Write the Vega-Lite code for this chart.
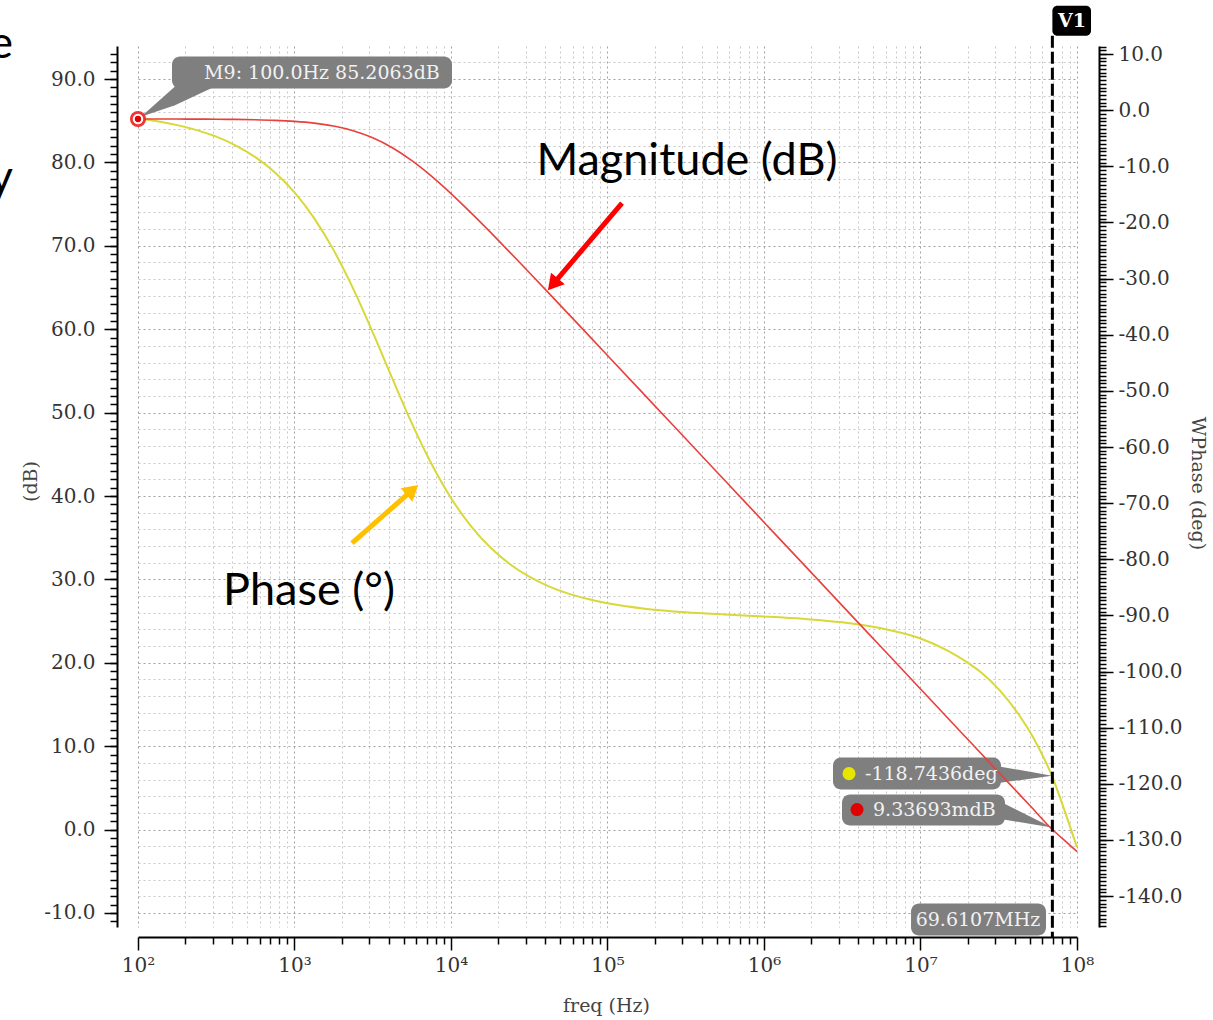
{
  "$schema": "https://vega.github.io/schema/vega-lite/v6.json",
  "width": 939,
  "height": 881,
  "autosize": {"type": "none"},
  "padding": {"left": 138, "top": 46, "right": 136, "bottom": 93},
  "background": "#ffffff",
  "config": {
    "view": {"stroke": null},
    "axis": {"labelFont": "DejaVu Serif", "titleFont": "DejaVu Serif", "labelColor": "#333333", "titleColor": "#444444", "titleFontWeight": "normal", "tickColor": "#000000", "domainColor": "#000000", "domainWidth": 2, "tickWidth": 1.5, "labelFontSize": 20, "titleFontSize": 19}
  },
  "datasets": {
    "mag": [
      {"f": 100, "db": 85.206}, {"f": 133, "db": 85.204}, {"f": 178, "db": 85.2}, {"f": 237, "db": 85.192}, {"f": 316, "db": 85.179}, {"f": 422, "db": 85.156}, {"f": 562, "db": 85.116}, {"f": 750, "db": 85.045}, {"f": 1000, "db": 84.922}, {"f": 1334, "db": 84.711}, {"f": 1778, "db": 84.359}, {"f": 2371, "db": 83.797}, {"f": 3162, "db": 82.947}, {"f": 4217, "db": 81.754}, {"f": 5623, "db": 80.211}, {"f": 7499, "db": 78.357}, {"f": 10000, "db": 76.268}, {"f": 13335, "db": 74.018}, {"f": 17783, "db": 71.666}, {"f": 23714, "db": 69.25}, {"f": 31623, "db": 66.8}, {"f": 42170, "db": 64.33}, {"f": 56234, "db": 61.84}, {"f": 74989, "db": 59.35}, {"f": 100000, "db": 56.856}, {"f": 177828, "db": 51.86}, {"f": 316228, "db": 46.86}, {"f": 562341, "db": 41.86}, {"f": 1000000, "db": 36.86}, {"f": 1778279, "db": 31.86}, {"f": 3162278, "db": 26.86}, {"f": 5623413, "db": 21.86}, {"f": 10000000, "db": 16.86}, {"f": 17782794, "db": 11.86}, {"f": 31622777, "db": 6.86}, {"f": 50000000, "db": 2.88}, {"f": 69610700, "db": 0.0093}, {"f": 81500000, "db": -1.15}, {"f": 100000000, "db": -2.64}
    ],
    "phase": [
      {"f": 100, "deg": -1.5}, {"f": 133, "deg": -1.99}, {"f": 178, "deg": -2.66}, {"f": 237, "deg": -3.55}, {"f": 316, "deg": -4.72}, {"f": 422, "deg": -6.3}, {"f": 562, "deg": -8.36}, {"f": 750, "deg": -11.09}, {"f": 1000, "deg": -14.65}, {"f": 1334, "deg": -19.22}, {"f": 1778, "deg": -24.93}, {"f": 2371, "deg": -31.79}, {"f": 3162, "deg": -39.58}, {"f": 4217, "deg": -47.79}, {"f": 5623, "deg": -55.78}, {"f": 7499, "deg": -62.98}, {"f": 10000, "deg": -69.07}, {"f": 13335, "deg": -74.0}, {"f": 17783, "deg": -77.86}, {"f": 23714, "deg": -80.84}, {"f": 31623, "deg": -83.1}, {"f": 42170, "deg": -84.82}, {"f": 56234, "deg": -86.11}, {"f": 74989, "deg": -87.08}, {"f": 100000, "deg": -87.85}, {"f": 177828, "deg": -88.84}, {"f": 316228, "deg": -89.44}, {"f": 562341, "deg": -89.84}, {"f": 1000000, "deg": -90.19}, {"f": 1778279, "deg": -90.61}, {"f": 3162278, "deg": -91.22}, {"f": 5623413, "deg": -92.3}, {"f": 10000000, "deg": -94.1}, {"f": 15000000, "deg": -96.3}, {"f": 20000000, "deg": -98.4}, {"f": 24000000, "deg": -100.0}, {"f": 32200000, "deg": -103.4}, {"f": 43300000, "deg": -108.0}, {"f": 52400000, "deg": -111.7}, {"f": 60700000, "deg": -115.1}, {"f": 69610700, "deg": -118.74}, {"f": 81500000, "deg": -124.0}, {"f": 100000000, "deg": -131.3}
    ],
    "callBoxes": [
      {"f1": 164.9, "f2": 10148, "d1": 92.69, "d2": 88.85},
      {"f1": 2760000, "f2": 32690000, "d1": 8.63, "d2": 4.8},
      {"f1": 3151000, "f2": 34670000, "d1": 4.2, "d2": 0.48},
      {"f1": 8700000, "f2": 63400000, "d1": -8.87, "d2": -12.71}
    ],
    "cursorBox": [
      {"f1": 69610700, "f2": 122900000, "d1": 98.8, "d2": 95.2}
    ],
    "pointers": [
      {"pid": "m9", "f": 104.5, "top": 85.49, "bot": 85.49},
      {"pid": "m9", "f": 172.3, "top": 89.09, "bot": 86.87},
      {"pid": "m9", "f": 310.5, "top": 89.09, "bot": 89.09},
      {"pid": "ph", "f": 29900000, "top": 7.67, "bot": 5.52},
      {"pid": "ph", "f": 69240000, "top": 6.47, "bot": 6.47},
      {"pid": "mg", "f": 31280000, "top": 3.48, "bot": 1.32},
      {"pid": "mg", "f": 69240000, "top": 0.24, "bot": 0.24}
    ],
    "centerLabels": [
      {"f": 1498, "db": 90.77, "t": "M9: 100.0Hz 85.2063dB"},
      {"f": 23300000, "db": -10.79, "t": "69.6107MHz"}
    ],
    "leftLabels": [
      {"f": 4420000, "db": 6.71, "t": "-118.7436deg"},
      {"f": 4972000, "db": 2.4, "t": "9.33693mdB"}
    ],
    "cursorLabel": [{"f": 92900000, "db": 97.0, "t": "V1"}],
    "cursor": [{"f": 69610700, "top": 95.2, "bot": -12.88}],
    "phaseDot": [{"f": 3493000, "db": 6.71}],
    "magDot": [{"f": 3929000, "db": 2.4}],
    "marker": [{"f": 100, "db": 85.2063}],
    "redArrow": [{"f1": 123800, "d1": 75.13, "f2": 44780, "d2": 65.38}],
    "orangeArrow": [{"f1": 2330, "d1": 34.36, "f2": 5667, "d2": 40.72}],
    "bigText": [
      {"f": 322000, "db": 78.49, "t": "Magnitude (dB)"},
      {"f": 1238, "db": 26.93, "t": "Phase (°)"}
    ],
    "edgeText": [
      {"f": 15.9, "db": 92.5, "t": "e"},
      {"f": 15.9, "db": 76.4, "t": "y"}
    ]
  },
  "layer": [
    {
      "layer": [
        {
          "data": {"name": "phase"},
          "mark": {"type": "line", "color": "#d8d83a", "strokeWidth": 2, "interpolate": "monotone"},
          "encoding": {
            "x": {"field": "f", "type": "quantitative", "scale": {"type": "log", "domain": [100, 100000000], "nice": false}, "axis": null},
            "y": {"field": "deg", "type": "quantitative", "scale": {"domain": [-145.5, 11.43], "nice": false, "zero": false},
              "axis": {"orient": "right", "offset": 22, "values": [-140, -130, -120, -110, -100, -90, -80, -70, -60, -50, -40, -30, -20, -10, 0, 10], "format": ".1f", "labelExpr": "replace(datum.label, '−', '-')", "tickSize": 14, "labelPadding": 5, "grid": false, "title": "WPhase (deg)", "titleAngle": 90, "titleX": 98, "titleY": 437, "titleAlign": "center", "titleBaseline": "middle"}}
          }
        },
        {
          "data": {"name": "phase"},
          "mark": {"type": "line", "opacity": 0},
          "encoding": {
            "x": {"field": "f", "type": "quantitative", "scale": {"type": "log", "domain": [100, 100000000], "nice": false}, "axis": null},
            "y": {"field": "deg", "type": "quantitative", "scale": {"domain": [-145.5, 11.43], "nice": false, "zero": false},
              "axis": {"orient": "right", "offset": 22, "tickSize": 7, "labels": false, "domain": false, "grid": false, "title": null,
                "values": [-145.33, -144.67, -144, -143.33, -142.67, -142, -141.33, -140.67, -140, -139.33, -138.67, -138, -137.33, -136.67, -136, -135.33, -134.67, -134, -133.33, -132.67, -132, -131.33, -130.67, -130, -129.33, -128.67, -128, -127.33, -126.67, -126, -125.33, -124.67, -124, -123.33, -122.67, -122, -121.33, -120.67, -120, -119.33, -118.67, -118, -117.33, -116.67, -116, -115.33, -114.67, -114, -113.33, -112.67, -112, -111.33, -110.67, -110, -109.33, -108.67, -108, -107.33, -106.67, -106, -105.33, -104.67, -104, -103.33, -102.67, -102, -101.33, -100.67, -100, -99.33, -98.67, -98, -97.33, -96.67, -96, -95.33, -94.67, -94, -93.33, -92.67, -92, -91.33, -90.67, -90, -89.33, -88.67, -88, -87.33, -86.67, -86, -85.33, -84.67, -84, -83.33, -82.67, -82, -81.33, -80.67, -80, -79.33, -78.67, -78, -77.33, -76.67, -76, -75.33, -74.67, -74, -73.33, -72.67, -72, -71.33, -70.67, -70, -69.33, -68.67, -68, -67.33, -66.67, -66, -65.33, -64.67, -64, -63.33, -62.67, -62, -61.33, -60.67, -60, -59.33, -58.67, -58, -57.33, -56.67, -56, -55.33, -54.67, -54, -53.33, -52.67, -52, -51.33, -50.67, -50, -49.33, -48.67, -48, -47.33, -46.67, -46, -45.33, -44.67, -44, -43.33, -42.67, -42, -41.33, -40.67, -40, -39.33, -38.67, -38, -37.33, -36.67, -36, -35.33, -34.67, -34, -33.33, -32.67, -32, -31.33, -30.67, -30, -29.33, -28.67, -28, -27.33, -26.67, -26, -25.33, -24.67, -24, -23.33, -22.67, -22, -21.33, -20.67, -20, -19.33, -18.67, -18, -17.33, -16.67, -16, -15.33, -14.67, -14, -13.33, -12.67, -12, -11.33, -10.67, -10, -9.33, -8.67, -8, -7.33, -6.67, -6, -5.33, -4.67, -4, -3.33, -2.67, -2, -1.33, -0.67, 0, 0.67, 1.33, 2, 2.67, 3.33, 4, 4.67, 5.33, 6, 6.67, 7.33, 8, 8.67, 9.33, 10, 10.67, 11.33]}}
          }
        }
      ],
      "resolve": {"axis": {"y": "independent"}}
    },
    {
      "layer": [
        {
          "data": {"name": "mag"},
          "mark": {"type": "line", "opacity": 0},
          "encoding": {
            "x": {"field": "f", "type": "quantitative", "scale": {"type": "log", "domain": [100, 100000000], "nice": false},
              "axis": {"orient": "bottom", "offset": 10, "tickSize": 7, "labels": false, "domain": false, "grid": true, "gridColor": "#c8c8c8", "gridDash": [2, 3], "gridWidth": 1, "title": null,
                "values": [200, 300, 400, 500, 600, 700, 800, 900, 2000, 3000, 4000, 5000, 6000, 7000, 8000, 9000, 20000, 30000, 40000, 50000, 60000, 70000, 80000, 90000, 200000, 300000, 400000, 500000, 600000, 700000, 800000, 900000, 2000000, 3000000, 4000000, 5000000, 6000000, 7000000, 8000000, 9000000, 20000000, 30000000, 40000000, 50000000, 60000000, 70000000, 80000000, 90000000]}},
            "y": {"field": "db", "type": "quantitative", "scale": {"domain": [-11.68, 93.96], "nice": false, "zero": false},
              "axis": {"orient": "left", "offset": 21, "tickSize": 7, "labels": false, "domain": false, "grid": true, "gridColor": "#c8c8c8", "gridDash": [2, 3], "gridWidth": 1, "title": null,
                "gridOpacity": {"condition": {"test": "datum.value % 2 !== 0 || datum.value % 10 === 0", "value": 0}, "value": 1},
                "values": [-11, -10, -9, -8, -7, -6, -5, -4, -3, -2, -1, 0, 1, 2, 3, 4, 5, 6, 7, 8, 9, 10, 11, 12, 13, 14, 15, 16, 17, 18, 19, 20, 21, 22, 23, 24, 25, 26, 27, 28, 29, 30, 31, 32, 33, 34, 35, 36, 37, 38, 39, 40, 41, 42, 43, 44, 45, 46, 47, 48, 49, 50, 51, 52, 53, 54, 55, 56, 57, 58, 59, 60, 61, 62, 63, 64, 65, 66, 67, 68, 69, 70, 71, 72, 73, 74, 75, 76, 77, 78, 79, 80, 81, 82, 83, 84, 85, 86, 87, 88, 89, 90, 91, 92, 93]}}
          }
        },
        {
          "data": {"name": "callBoxes"},
          "mark": {"type": "rect", "cornerRadius": 8, "color": "#7f7f7f"},
          "encoding": {
            "x": {"field": "f1", "type": "quantitative", "scale": {"type": "log", "domain": [100, 100000000], "nice": false}, "axis": null},
            "x2": {"field": "f2"},
            "y": {"field": "d1", "type": "quantitative", "scale": {"domain": [-11.68, 93.96], "nice": false, "zero": false}, "axis": null},
            "y2": {"field": "d2"}
          }
        },
        {
          "data": {"name": "cursorBox"},
          "mark": {"type": "rect", "cornerRadius": 5, "color": "#000000"},
          "encoding": {
            "x": {"field": "f1", "type": "quantitative", "scale": {"type": "log", "domain": [100, 100000000], "nice": false}, "axis": null},
            "x2": {"field": "f2"},
            "y": {"field": "d1", "type": "quantitative", "scale": {"domain": [-11.68, 93.96], "nice": false, "zero": false}, "axis": null},
            "y2": {"field": "d2"}
          }
        },
        {
          "data": {"name": "pointers"},
          "mark": {"type": "area", "color": "#7f7f7f", "orient": "vertical"},
          "encoding": {
            "x": {"field": "f", "type": "quantitative", "scale": {"type": "log", "domain": [100, 100000000], "nice": false}, "axis": null},
            "y": {"field": "top", "type": "quantitative", "scale": {"domain": [-11.68, 93.96], "nice": false, "zero": false}, "axis": null},
            "y2": {"field": "bot"},
            "detail": {"field": "pid", "type": "nominal"}
          }
        },
        {
          "data": {"name": "mag"},
          "mark": {"type": "line", "color": "#e8403c", "strokeWidth": 1.6, "interpolate": "monotone"},
          "encoding": {
            "x": {"field": "f", "type": "quantitative", "scale": {"type": "log", "domain": [100, 100000000], "nice": false},
              "axis": {"orient": "bottom", "offset": 10, "values": [100, 1000, 10000, 100000, 1000000, 10000000, 100000000], "labelExpr": "'10' + ['⁰','¹','²','³','⁴','⁵','⁶','⁷','⁸'][round(log(datum.value)/LN10)]", "tickSize": 13, "labelPadding": 5, "labelFlush": false, "labelOverlap": false, "grid": true, "gridColor": "#a0a0a0", "gridDash": [2, 3], "gridWidth": 1, "title": "freq (Hz)", "titleX": 468, "titleY": 68, "titleAlign": "center", "titleBaseline": "middle"}},
            "y": {"field": "db", "type": "quantitative", "scale": {"domain": [-11.68, 93.96], "nice": false, "zero": false},
              "axis": {"orient": "left", "offset": 21, "values": [-10, 0, 10, 20, 30, 40, 50, 60, 70, 80, 90], "format": ".1f", "labelExpr": "replace(datum.label, '−', '-')", "tickSize": 13, "labelPadding": 9, "grid": true, "gridColor": "#a0a0a0", "gridDash": [2, 3], "gridWidth": 1, "title": "(dB)", "titleAngle": 270, "titleX": -87, "titleY": 435, "titleAlign": "center", "titleBaseline": "middle"}}
          }
        },
        {
          "data": {"name": "cursor"},
          "mark": {"type": "rule", "color": "#000000", "strokeWidth": 3, "strokeDash": [12, 4]},
          "encoding": {
            "x": {"field": "f", "type": "quantitative", "scale": {"type": "log", "domain": [100, 100000000], "nice": false}, "axis": null},
            "y": {"field": "top", "type": "quantitative", "scale": {"domain": [-11.68, 93.96], "nice": false, "zero": false}, "axis": null},
            "y2": {"field": "bot"}
          }
        },
        {
          "data": {"name": "phaseDot"},
          "mark": {"type": "point", "shape": "circle", "filled": true, "opacity": 1, "size": 170, "color": "#e6e600"},
          "encoding": {
            "x": {"field": "f", "type": "quantitative", "scale": {"type": "log", "domain": [100, 100000000], "nice": false}, "axis": null},
            "y": {"field": "db", "type": "quantitative", "scale": {"domain": [-11.68, 93.96], "nice": false, "zero": false}, "axis": null}
          }
        },
        {
          "data": {"name": "magDot"},
          "mark": {"type": "point", "shape": "circle", "filled": true, "opacity": 1, "size": 170, "color": "#e00000"},
          "encoding": {
            "x": {"field": "f", "type": "quantitative", "scale": {"type": "log", "domain": [100, 100000000], "nice": false}, "axis": null},
            "y": {"field": "db", "type": "quantitative", "scale": {"domain": [-11.68, 93.96], "nice": false, "zero": false}, "axis": null}
          }
        },
        {
          "data": {"name": "centerLabels"},
          "mark": {"type": "text", "align": "center", "baseline": "middle", "font": "DejaVu Serif", "fontSize": 19, "color": "#f2f2f2"},
          "encoding": {
            "x": {"field": "f", "type": "quantitative", "scale": {"type": "log", "domain": [100, 100000000], "nice": false}, "axis": null},
            "y": {"field": "db", "type": "quantitative", "scale": {"domain": [-11.68, 93.96], "nice": false, "zero": false}, "axis": null},
            "text": {"field": "t"}
          }
        },
        {
          "data": {"name": "leftLabels"},
          "mark": {"type": "text", "align": "left", "baseline": "middle", "font": "DejaVu Serif", "fontSize": 19, "color": "#f2f2f2"},
          "encoding": {
            "x": {"field": "f", "type": "quantitative", "scale": {"type": "log", "domain": [100, 100000000], "nice": false}, "axis": null},
            "y": {"field": "db", "type": "quantitative", "scale": {"domain": [-11.68, 93.96], "nice": false, "zero": false}, "axis": null},
            "text": {"field": "t"}
          }
        },
        {
          "data": {"name": "cursorLabel"},
          "mark": {"type": "text", "align": "center", "baseline": "middle", "font": "DejaVu Serif", "fontSize": 19, "fontWeight": "bold", "color": "#ffffff"},
          "encoding": {
            "x": {"field": "f", "type": "quantitative", "scale": {"type": "log", "domain": [100, 100000000], "nice": false}, "axis": null},
            "y": {"field": "db", "type": "quantitative", "scale": {"domain": [-11.68, 93.96], "nice": false, "zero": false}, "axis": null},
            "text": {"field": "t"}
          }
        },
        {
          "data": {"name": "marker"},
          "mark": {"type": "point", "shape": "circle", "filled": true, "color": "#ee2a2a", "opacity": 0.95, "size": 260},
          "encoding": {
            "x": {"field": "f", "type": "quantitative", "scale": {"type": "log", "domain": [100, 100000000], "nice": false}, "axis": null},
            "y": {"field": "db", "type": "quantitative", "scale": {"domain": [-11.68, 93.96], "nice": false, "zero": false}, "axis": null}
          }
        },
        {
          "data": {"name": "marker"},
          "mark": {"type": "point", "shape": "circle", "filled": true, "color": "#ffffff", "opacity": 1, "size": 110},
          "encoding": {
            "x": {"field": "f", "type": "quantitative", "scale": {"type": "log", "domain": [100, 100000000], "nice": false}, "axis": null},
            "y": {"field": "db", "type": "quantitative", "scale": {"domain": [-11.68, 93.96], "nice": false, "zero": false}, "axis": null}
          }
        },
        {
          "data": {"name": "marker"},
          "mark": {"type": "point", "shape": "circle", "filled": true, "color": "#e00000", "opacity": 1, "size": 40},
          "encoding": {
            "x": {"field": "f", "type": "quantitative", "scale": {"type": "log", "domain": [100, 100000000], "nice": false}, "axis": null},
            "y": {"field": "db", "type": "quantitative", "scale": {"domain": [-11.68, 93.96], "nice": false, "zero": false}, "axis": null}
          }
        },
        {
          "data": {"name": "redArrow"},
          "mark": {"type": "rule", "color": "#ff0000", "strokeWidth": 5},
          "encoding": {
            "x": {"field": "f1", "type": "quantitative", "scale": {"type": "log", "domain": [100, 100000000], "nice": false}, "axis": null},
            "y": {"field": "d1", "type": "quantitative", "scale": {"domain": [-11.68, 93.96], "nice": false, "zero": false}, "axis": null},
            "x2": {"field": "f2"},
            "y2": {"field": "d2"}
          }
        },
        {
          "data": {"name": "redArrow"},
          "mark": {"type": "point", "shape": "triangle-up", "filled": true, "color": "#ff0000", "opacity": 1, "size": 320, "angle": 220},
          "encoding": {
            "x": {"field": "f2", "type": "quantitative", "scale": {"type": "log", "domain": [100, 100000000], "nice": false}, "axis": null},
            "y": {"field": "d2", "type": "quantitative", "scale": {"domain": [-11.68, 93.96], "nice": false, "zero": false}, "axis": null}
          }
        },
        {
          "data": {"name": "orangeArrow"},
          "mark": {"type": "rule", "color": "#ffc000", "strokeWidth": 5},
          "encoding": {
            "x": {"field": "f1", "type": "quantitative", "scale": {"type": "log", "domain": [100, 100000000], "nice": false}, "axis": null},
            "y": {"field": "d1", "type": "quantitative", "scale": {"domain": [-11.68, 93.96], "nice": false, "zero": false}, "axis": null},
            "x2": {"field": "f2"},
            "y2": {"field": "d2"}
          }
        },
        {
          "data": {"name": "orangeArrow"},
          "mark": {"type": "point", "shape": "triangle-up", "filled": true, "color": "#ffc000", "opacity": 1, "size": 320, "angle": 49},
          "encoding": {
            "x": {"field": "f2", "type": "quantitative", "scale": {"type": "log", "domain": [100, 100000000], "nice": false}, "axis": null},
            "y": {"field": "d2", "type": "quantitative", "scale": {"domain": [-11.68, 93.96], "nice": false, "zero": false}, "axis": null}
          }
        },
        {
          "data": {"name": "bigText"},
          "mark": {"type": "text", "align": "center", "baseline": "alphabetic", "font": "Lato", "fontSize": 45, "color": "#000000"},
          "encoding": {
            "x": {"field": "f", "type": "quantitative", "scale": {"type": "log", "domain": [100, 100000000], "nice": false}, "axis": null},
            "y": {"field": "db", "type": "quantitative", "scale": {"domain": [-11.68, 93.96], "nice": false, "zero": false}, "axis": null},
            "text": {"field": "t"}
          }
        },
        {
          "data": {"name": "edgeText"},
          "mark": {"type": "text", "align": "right", "baseline": "alphabetic", "font": "Lato", "fontSize": 45, "color": "#000000"},
          "encoding": {
            "x": {"field": "f", "type": "quantitative", "scale": {"type": "log", "domain": [100, 100000000], "nice": false}, "axis": null},
            "y": {"field": "db", "type": "quantitative", "scale": {"domain": [-11.68, 93.96], "nice": false, "zero": false}, "axis": null},
            "text": {"field": "t"}
          }
        }
      ],
      "resolve": {"axis": {"x": "independent", "y": "independent"}}
    }
  ],
  "resolve": {"scale": {"y": "independent"}}
}
